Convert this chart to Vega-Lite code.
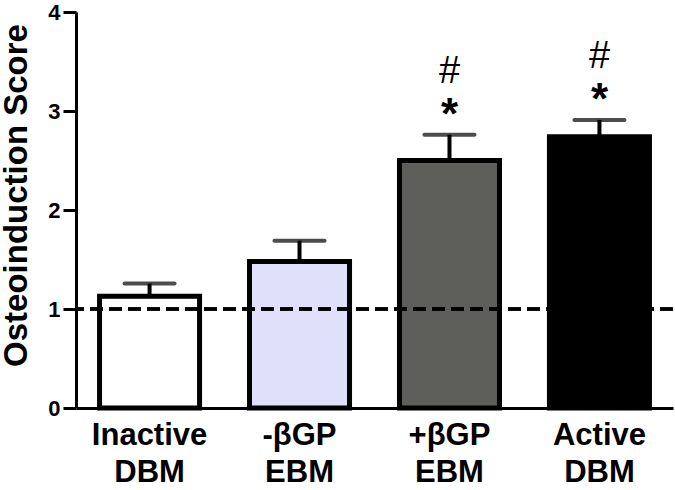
{
  "$schema": "https://vega.github.io/schema/vega-lite/v6.json",
  "autosize": "none",
  "width": 597,
  "height": 396,
  "padding": {"left": 76, "top": 12, "right": 2, "bottom": 82},
  "background": "white",
  "config": {"view": {"stroke": null}, "font": "Liberation Sans"},
  "data": {"values": [
    {"group": "Inactive DBM", "value": 1.13, "err": 1.257, "star": "", "hash": ""},
    {"group": "-βGP EBM", "value": 1.48, "err": 1.69, "star": "", "hash": ""},
    {"group": "+βGP EBM", "value": 2.5, "err": 2.76, "star": "*", "hash": "#"},
    {"group": "Active DBM", "value": 2.74, "err": 2.91, "star": "*", "hash": "#"}
  ]},
  "layer": [
    {
      "mark": {"type": "bar", "stroke": "black", "strokeWidth": 5},
      "encoding": {
        "x": {
          "field": "group", "type": "nominal", "sort": null,
          "scale": {"paddingInner": 0.333, "paddingOuter": 0.157},
          "axis": {
            "title": null, "labelAngle": 0, "ticks": false,
            "domainColor": "black", "domainWidth": 3,
            "labelFont": "Liberation Sans", "labelFontWeight": "bold", "labelFontSize": 31,
            "labelColor": "black", "labelPadding": 12, "labelLineHeight": 37,
            "labelExpr": "split(datum.label, ' ')"
          }
        },
        "y": {
          "field": "value", "type": "quantitative",
          "scale": {"domain": [0, 4], "nice": false},
          "axis": {
            "values": [0, 1, 2, 3, 4], "format": "d", "grid": false,
            "domainColor": "black", "domainWidth": 3,
            "tickColor": "black", "tickWidth": 3, "tickSize": 13,
            "labelFont": "Liberation Sans", "labelFontWeight": "bold", "labelFontSize": 22,
            "labelColor": "black", "labelPadding": 3,
            "title": "Osteoinduction Score",
            "titleFont": "Liberation Sans", "titleFontWeight": "bold", "titleFontSize": 33,
            "titleColor": "black", "titleX": -43, "titleY": 183
          }
        },
        "fill": {
          "field": "group", "type": "nominal", "legend": null,
          "scale": {
            "domain": ["Inactive DBM", "-βGP EBM", "+βGP EBM", "Active DBM"],
            "range": ["#ffffff", "#e0e0fb", "#5e5e5a", "#000000"]
          }
        }
      }
    },
    {
      "mark": {"type": "rule", "color": "black", "strokeWidth": 4},
      "encoding": {
        "x": {"field": "group", "type": "nominal", "sort": null},
        "y": {"field": "value", "type": "quantitative"},
        "y2": {"field": "err"}
      }
    },
    {
      "mark": {"type": "tick", "color": "black", "size": 54, "thickness": 4, "cornerRadius": 2, "orient": "horizontal"},
      "encoding": {
        "x": {"field": "group", "type": "nominal", "sort": null},
        "y": {"field": "err", "type": "quantitative"}
      }
    },
    {
      "mark": {"type": "rule", "color": "black", "strokeWidth": 3, "strokeDash": [13, 6]},
      "encoding": {"y": {"datum": 1, "type": "quantitative"}}
    },
    {
      "mark": {"type": "text", "font": "Liberation Sans", "fontWeight": "bold", "fontSize": 44, "baseline": "alphabetic", "dy": -6, "color": "black"},
      "encoding": {
        "x": {"field": "group", "type": "nominal", "sort": null},
        "y": {"field": "err", "type": "quantitative"},
        "text": {"field": "star"}
      }
    },
    {
      "mark": {"type": "text", "font": "Liberation Sans", "fontSize": 38, "baseline": "alphabetic", "dy": -52, "color": "black"},
      "encoding": {
        "x": {"field": "group", "type": "nominal", "sort": null},
        "y": {"field": "err", "type": "quantitative"},
        "text": {"field": "hash"}
      }
    }
  ]
}
